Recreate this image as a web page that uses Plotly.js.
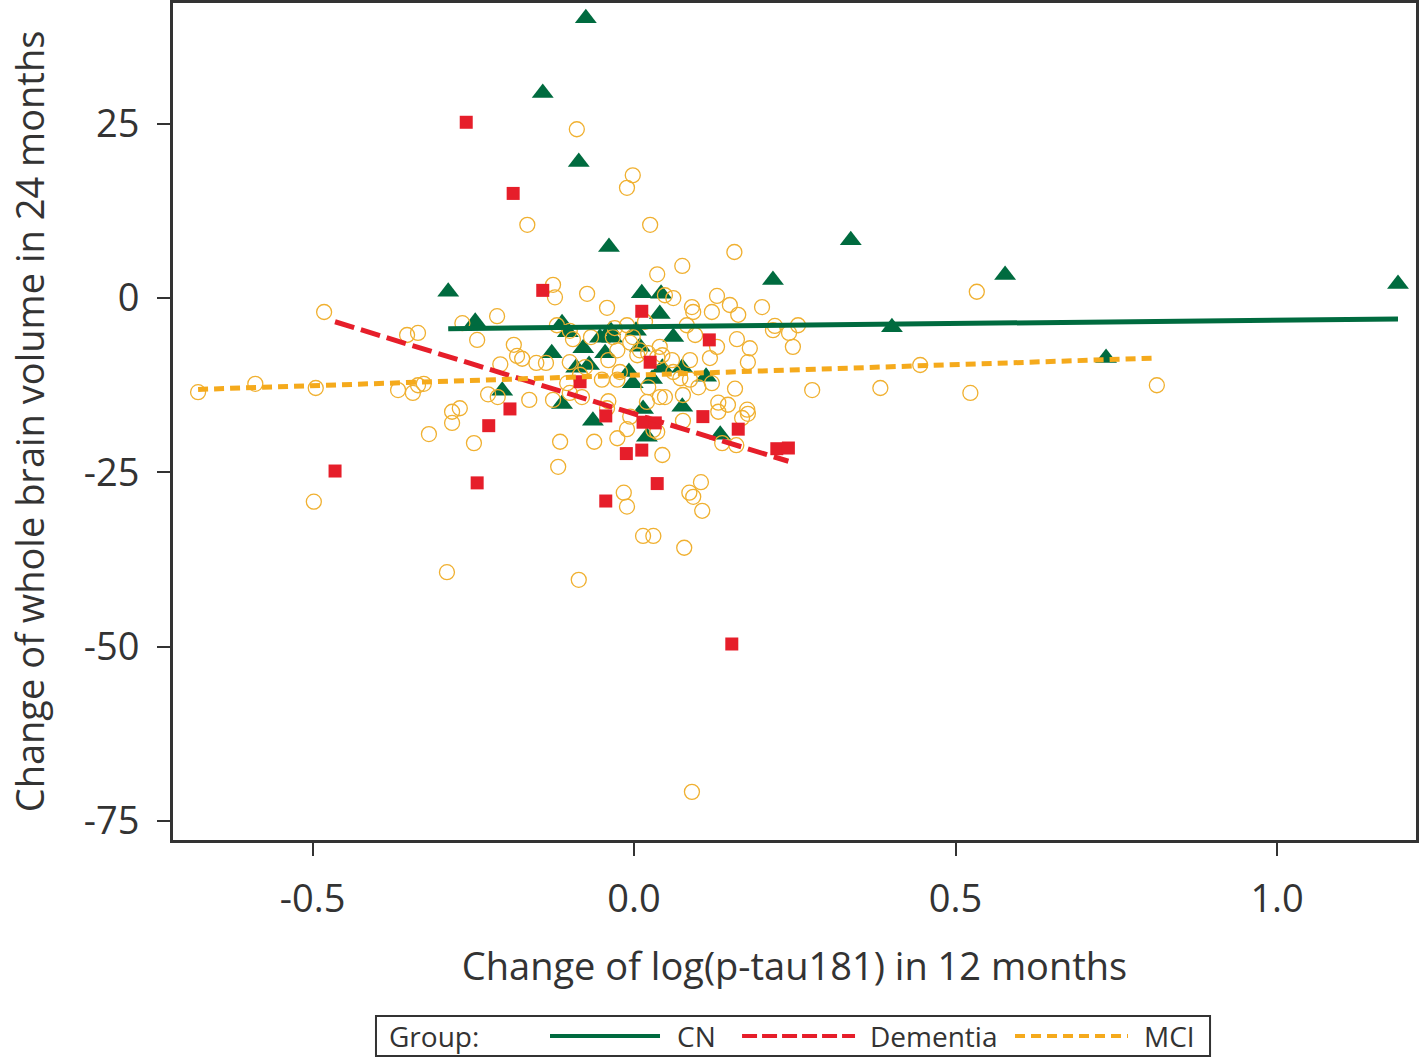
<!DOCTYPE html>
<html>
<head>
<meta charset="utf-8">
<script src="https://cdn.plot.ly/plotly-3.0.1.min.js"></script>
<style>
  html, body { margin: 0; padding: 0; background: #fff; }
  #plot { width: 1421px; height: 1058px; }
</style>
</head>
<body>
<div id="plot"></div>
<script>
  // Werte (geschaetzt)
  var groupNames = ["CN", "Dementia", "MCI"];

  var cnX = [-0.075, -0.142, -0.086, -0.039, -0.289, 0.012, 0.042, 0.216, 0.337, 0.577,
    1.188, 0.401, 0.734, -0.247, -0.205, -0.128, -0.112, -0.103, 0.040, -0.053,
    -0.037, -0.034, 0.003, 0.009, 0.061, -0.079, -0.045, -0.090, -0.070, -0.008,
    -0.002, 0.028, 0.044, 0.075, 0.112, -0.112, -0.064, 0.014, 0.075, 0.020, 0.134];
  var cnY = [40.1, 29.4, 19.5, 7.3, 0.9, 0.7, 0.6, 2.6, 8.3, 3.3,
    2.0, -4.2, -8.6, -3.4, -13.3, -7.9, -3.6, -4.9, -2.3, -5.7,
    -4.6, -5.7, -4.7, -7.0, -5.6, -7.2, -7.9, -10.0, -9.6, -10.6,
    -12.2, -11.6, -10.0, -10.0, -11.3, -15.2, -17.6, -15.9, -15.6, -19.9, -19.6];

  var demX = [-0.261, -0.188, -0.142, 0.012, 0.117, 0.025, -0.084, -0.193, -0.226, -0.044,
    0.014, 0.033, 0.107, 0.162, -0.012, 0.012, 0.036, -0.044, 0.222, 0.240,
    -0.465, -0.244, 0.152];
  var demY = [25.2, 15.0, 1.1, -1.9, -6.0, -9.2, -12.0, -15.9, -18.3, -16.9,
    -17.8, -17.9, -17.0, -18.8, -22.3, -21.8, -26.6, -29.1, -21.6, -21.5,
    -24.8, -26.5, -49.6];

  var mciX = [
    -0.089, -0.002, -0.011, -0.166, 0.025, 0.156, 0.075, 0.036, 0.533, -0.126,
    -0.123, -0.073, -0.482, -0.042,
    -0.678, -0.589, -0.495, -0.367, -0.344, -0.336, -0.327, -0.353, -0.336, -0.267,
    -0.244, -0.213, -0.187, -0.182, -0.174, -0.208, -0.152, -0.137, -0.227, -0.212,
    -0.283, -0.271, -0.283, -0.319, -0.249, -0.498, -0.291, -0.163, -0.126,
    -0.120, -0.100, -0.095, -0.067, -0.030, -0.033, -0.011, 0.017, -0.002, -0.006,
    0.009, 0.022, 0.040, 0.036, 0.048, 0.061, 0.090, 0.092, 0.129, 0.121,
    0.149, 0.162, 0.199, 0.082, 0.095, 0.160, 0.180, 0.177, 0.129, 0.216,
    0.219, 0.241, 0.255, 0.247, 0.277, 0.087, 0.118, 0.059, 0.061, 0.072,
    0.087, 0.100, 0.121, 0.157, 0.048, 0.076, 0.131, 0.146, 0.176,
    -0.100, -0.076, -0.040, -0.026, 0.005, 0.044, -0.022, -0.050, -0.026, -0.104,
    -0.084, -0.100, -0.040, 0.022, 0.040, 0.020, -0.081, -0.042, 0.030, -0.011,
    -0.006, 0.036, 0.076, 0.168, 0.177, 0.131, -0.115, -0.062, -0.118, -0.026,
    0.044, 0.137, 0.159, -0.016, -0.011, 0.086, 0.092, 0.104, 0.106, 0.014,
    0.030, 0.078, -0.086, 0.090,
    0.383, 0.445, 0.523, 0.813];
  var mciY = [
    24.2, 17.6, 15.8, 10.5, 10.5, 6.6, 4.6, 3.4, 0.9, 1.9,
    0.1, 0.6, -2.0, -1.4,
    -13.5, -12.3, -12.9, -13.2, -13.6, -12.5, -12.3, -5.3, -5.0, -3.6,
    -6.0, -2.6, -6.7, -8.3, -8.7, -9.5, -9.3, -9.3, -13.8, -14.2,
    -16.3, -15.8, -17.9, -19.5, -20.8, -29.2, -39.3, -14.6, -14.6,
    -3.9, -4.7, -5.9, -5.6, -4.3, -5.6, -3.9, -3.4, -5.6, -6.4,
    -7.5, -7.9, -7.0, -8.5, 0.4, 0.0, -1.3, -2.0, 0.3, -2.0,
    -1.0, -2.4, -1.3, -3.9, -5.3, -5.9, -7.2, -9.2, -7.0, -4.6,
    -4.0, -5.0, -3.9, -7.0, -13.2, -8.9, -8.6, -8.9, -10.6, -11.5,
    -11.7, -12.8, -12.2, -13.0, -14.2, -13.9, -15.0, -15.3, -16.0,
    -9.2, -9.9, -8.9, -7.5, -8.2, -8.2, -10.6, -11.7, -11.7, -12.2,
    -11.0, -13.6, -14.8, -12.8, -14.2, -14.9, -14.2, -15.8, -18.9, -18.8,
    -17.0, -19.2, -17.6, -17.2, -16.6, -16.3, -20.6, -20.6, -24.2, -20.1,
    -22.5, -20.8, -21.1, -27.9, -29.9, -27.9, -28.5, -26.4, -30.5, -34.1,
    -34.1, -35.8, -40.4, -70.8,
    -12.9, -9.6, -13.6, -12.5];

  // Regressionsgeraden, Endpunkte aus dem Bild
  var cnFitX = [-0.289, 1.188];
  var cnFitY = [-4.4, -3.0];
  var demFitX = [-0.465, 0.240];
  var demFitY = [-3.4, -23.4];
  var mciFitX = [-0.678, 0.813];
  var mciFitY = [-13.1, -8.6];

  var xTickVals = [-0.5, 0, 0.5, 1.0];
  var xTickText = ["-0.5", "0.0", "0.5", "1.0"];
  var yTickVals = [25, 0, -25, -50, -75];
  var yTickText = ["25", "0", "-25", "-50", "-75"];

  var GREEN = "#006b3f";
  var RED = "#e61e2a";
  var ORANGE = "#f5aa1c";
  var CIRCLE = "#f0b030";
  var TEXT = "#333333";
  var FONT = "Open Sans, Liberation Sans, sans-serif";

  var traces = [
    {
      x: cnX, y: cnY, type: "scatter", mode: "markers", showlegend: false,
      marker: { symbol: "triangle-up", size: 19, color: GREEN, line: { width: 0 } }
    },
    {
      x: mciX, y: mciY, type: "scatter", mode: "markers", showlegend: false,
      marker: { symbol: "circle-open", size: 15, color: CIRCLE, line: { width: 1.3, color: CIRCLE } }
    },
    {
      x: demX, y: demY, type: "scatter", mode: "markers", showlegend: false,
      marker: { symbol: "square", size: 13, color: RED, line: { width: 0 } }
    },
    {
      x: cnFitX, y: cnFitY, type: "scatter", mode: "lines", name: groupNames[0],
      showlegend: false, line: { color: GREEN, width: 5 }
    },
    {
      x: demFitX, y: demFitY, type: "scatter", mode: "lines", name: groupNames[1],
      showlegend: false, line: { color: RED, width: 5, dash: "20px,7px" }
    },
    {
      x: mciFitX, y: mciFitY, type: "scatter", mode: "lines", name: groupNames[2],
      showlegend: false, line: { color: ORANGE, width: 5, dash: "10px,6px" }
    }
  ];

  /*
    Legende von Hand: Plotly zeichnet die Linienproben nur 30 px breit,
    im Original sind sie deutlich laenger.
  */
  var legY = -0.2342;
  var legendLines = [
    { x0: 0.3033, x1: 0.3918, color: GREEN, dash: "solid" },
    { x0: 0.4578, x1: 0.5487, color: RED, dash: "15px,5px" },
    { x0: 0.6774, x1: 0.7683, color: ORANGE, dash: "10px,6px" }
  ];
  var legendTextX = [0.4039, 0.5591, 0.7796];

  var shapes = [
    {
      type: "rect", xref: "paper", yref: "paper",
      x0: 0.1633, x1: 0.8343, y0: -0.2581, y1: -0.2103,
      line: { color: TEXT, width: 2 }, fillcolor: "rgba(0,0,0,0)"
    }
  ];
  legendLines.forEach(function (l) {
    shapes.push({
      type: "line", xref: "paper", yref: "paper",
      x0: l.x0, x1: l.x1, y0: legY, y1: legY,
      line: { color: l.color, width: 4, dash: l.dash }
    });
  });

  var annotations = [
    {
      xref: "paper", yref: "paper", x: 0.172, y: legY, text: "Group:",
      showarrow: false, xanchor: "left", yanchor: "middle",
      font: { family: FONT, size: 28, color: TEXT }
    }
  ];
  groupNames.forEach(function (name, i) {
    annotations.push({
      xref: "paper", yref: "paper", x: legendTextX[i], y: legY, text: name,
      showarrow: false, xanchor: "left", yanchor: "middle",
      font: { family: FONT, size: 28, color: TEXT }
    });
  });

  var layout = {
    width: 1421,
    height: 1058,
    margin: { l: 173, r: 5, t: 3, b: 218 },
    paper_bgcolor: "#ffffff",
    plot_bgcolor: "#ffffff",
    font: { family: FONT, color: TEXT },
    showlegend: false,

    xaxis: {
      range: [-0.717, 1.216],
      tickmode: "array",
      tickvals: xTickVals,
      ticktext: xTickText,
      ticks: "outside",
      ticklen: 13,
      tickwidth: 2,
      tickcolor: TEXT,
      tickfont: { family: FONT, size: 38, color: TEXT },
      ticklabelstandoff: 10,
      showline: true,
      linecolor: TEXT,
      linewidth: 3,
      mirror: true,
      showgrid: false,
      zeroline: false,
      title: {
        text: "Change of log(p-tau181) in 12 months",
        font: { family: FONT, size: 38, color: TEXT },
        standoff: 32
      }
    },

    yaxis: {
      range: [-77.7, 42.3],
      tickmode: "array",
      tickvals: yTickVals,
      ticktext: yTickText,
      ticks: "outside",
      ticklen: 13,
      tickwidth: 2,
      tickcolor: TEXT,
      tickfont: { family: FONT, size: 38, color: TEXT },
      ticklabelstandoff: 10,
      showline: true,
      linecolor: TEXT,
      linewidth: 3,
      mirror: true,
      showgrid: false,
      zeroline: false,
      title: {
        text: "Change of whole brain volume in 24 months",
        font: { family: FONT, size: 38, color: TEXT },
        standoff: 28
      }
    },

    shapes: shapes,
    annotations: annotations
  };

  Plotly.newPlot("plot", traces, layout, { displayModeBar: false, responsive: false });
</script>
</body>
</html>
